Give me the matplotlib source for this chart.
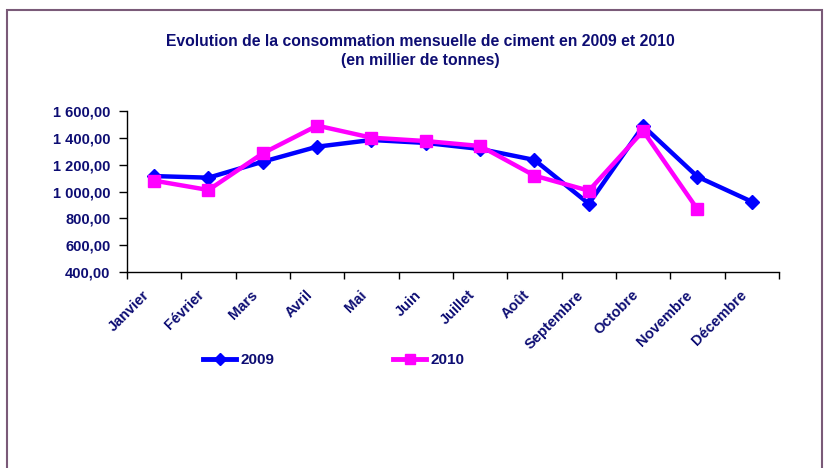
import matplotlib
matplotlib.use("Agg")
import matplotlib.pyplot as plt
from matplotlib.patches import Rectangle
from matplotlib.lines import Line2D
from matplotlib.transforms import ScaledTranslation

months = ["Janvier", "Février", "Mars", "Avril", "Mai", "Juin", "Juillet",
          "Août", "Septembre", "Octobre", "Novembre", "Décembre"]
values_2009 = [1115, 1103, 1222, 1334, 1384, 1362, 1317, 1235, 909, 1488, 1110, 924]
values_2010 = [1081, 1011, 1285, 1491, 1401, 1376, 1339, 1118, 1006, 1451, 867]
yticks = [400, 600, 800, 1000, 1200, 1400, 1600]

navy = "#0D0D73"
plt.rcParams['font.family'] = ['Liberation Sans', 'DejaVu Sans']

W, H = 829, 468
fig = plt.figure(figsize=(W / 100, H / 100), dpi=100)

# outer frame
fig.patches.append(Rectangle((7 / W, -0.2), (822 - 7) / W, 1.2 - 10 / H,
                             transform=fig.transFigure, fill=False,
                             edgecolor="#7A5A78", linewidth=1.5))

ax = fig.add_axes([127 / W, 1 - 272 / H, (779 - 127) / W, (272 - 111) / H])

x = list(range(len(months)))
ax.plot(x, values_2009, color="#0000FF", lw=3.2, marker="D", markersize=7.5,
        zorder=3)
ax.plot(list(range(len(values_2010))), values_2010, color="#FF00FF", lw=3.2,
        marker="s", markersize=8.5, zorder=4)

ax.set_xlim(-0.5, len(months) - 0.5)
ax.set_ylim(400, 1600)
ax.set_yticks(yticks)
ax.set_yticklabels([f"{v:,.2f}".replace(",", " ").replace(".", ",") for v in yticks],
                   fontsize=10.5, fontweight="bold", color=navy)

ax.set_xticks([i - 0.5 for i in range(len(months) + 1)])
ax.set_xticklabels([])
ax.set_xticks(x, minor=True)
ax.set_xticklabels(months, minor=True, rotation=45, ha="right",
                   rotation_mode="anchor", fontsize=10.5, fontweight="bold",
                   color=navy)
ax.tick_params(axis="x", which="minor", length=0, pad=10)
ax.tick_params(axis="x", which="major", length=5, direction="out", width=1)
ax.tick_params(axis="y", length=6, direction="out", width=1, pad=6)

off = ScaledTranslation(-12 / 100, -2 / 100, fig.dpi_scale_trans)
for lab in ax.get_xticklabels(minor=True):
    lab.set_transform(lab.get_transform() + off)

for s in ["top", "right"]:
    ax.spines[s].set_visible(False)
for s in ["left", "bottom"]:
    ax.spines[s].set_linewidth(1)

fig.text(420 / W, 1 - 42 / H,
         "Evolution de la consommation mensuelle de ciment en 2009 et 2010",
         ha="center", va="center", fontsize=11.3, fontweight="bold", color=navy)
fig.text(420 / W, 1 - 60 / H, "(en millier de tonnes)",
         ha="center", va="center", fontsize=11.3, fontweight="bold", color=navy)

# legend
h1 = Line2D([], [], color="#0000FF", lw=3.5, marker="D", markersize=6)
h2 = Line2D([], [], color="#FF00FF", lw=3.5, marker="s", markersize=7)
leg1 = fig.legend([h1], ["2009"], loc="center left",
                  bbox_to_anchor=(189 / W, 1 - 360 / H), frameon=False,
                  handlelength=2.2, handletextpad=0.3,
                  prop={"weight": "bold", "size": 11})
for t in leg1.get_texts():
    t.set_color(navy)
leg2 = fig.legend([h2], ["2010"], loc="center left",
                  bbox_to_anchor=(379 / W, 1 - 360 / H), frameon=False,
                  handlelength=2.2, handletextpad=0.3,
                  prop={"weight": "bold", "size": 11})
for t in leg2.get_texts():
    t.set_color(navy)

fig.savefig("out.png", dpi=100)
